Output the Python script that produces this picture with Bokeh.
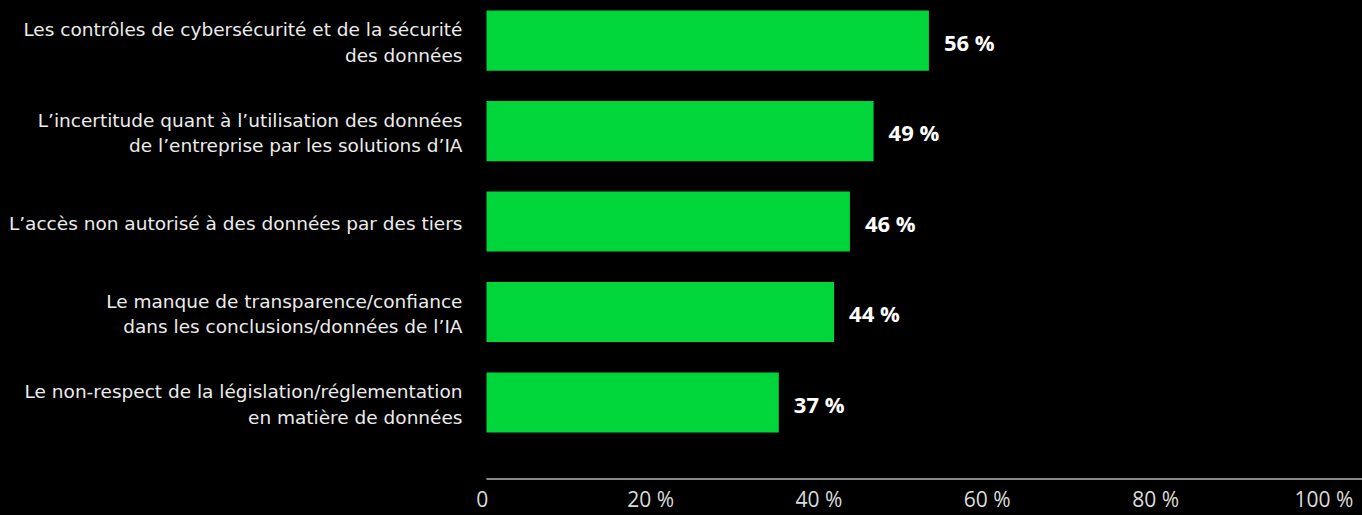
from bokeh.plotting import figure
from bokeh.models import Range1d, LinearAxis, FixedTicker, ColumnDataSource, InlineStyleSheet
from bokeh.core.properties import value
from bokeh.embed import file_html
from bokeh.resources import INLINE

# ---- data ----
categories = [
    "Les contrôles de cybersécurité et de la sécurité\ndes données",
    "L’incertitude quant à l’utilisation des données\nde l’entreprise par les solutions d’IA",
    "L’accès non autorisé à des données par des tiers",
    "Le manque de transparence/confiance\ndans les conclusions/données de l’IA",
    "Le non-respect de la législation/réglementation\nen matière de données",
]
values = [56, 49, 46, 44, 37]
value_labels = ["56 %", "49 %", "46 %", "44 %", "37 %"]
tick_values = [0, 20, 40, 60, 80, 100]
tick_labels = ["0", "20 %", "40 %", "60 %", "80 %", "100 %"]

# ---- layout constants ----
W, H = 1362, 515
FRAME_BOTTOM = 479          # pixel row of the axis line
ROW0, PITCH = 40.0, 90.3    # first bar centre and row pitch (px)
BASE_X, PX_PER_UNIT = 486.0, 7.9
TICK0, TICK_PX = 481.8, 8.416

rows = list(range(len(values)))
src = ColumnDataSource(dict(y=rows, v=values, cat=categories, vl=value_labels))

x_range = Range1d(-BASE_X / PX_PER_UNIT, (W - BASE_X) / PX_PER_UNIT)
y_range = Range1d((FRAME_BOTTOM - ROW0) / PITCH, -ROW0 / PITCH)

p = figure(width=W, height=H, x_range=x_range, y_range=y_range,
           output_backend="svg", toolbar_location=None,
           x_axis_location=None, y_axis_location=None,
           min_border=0, background_fill_color="black",
           border_fill_color="black", outline_line_color=None)
p.stylesheets = [InlineStyleSheet(css=":host { background-color: #000000; }")]
p.grid.visible = False

p.extra_x_ranges = {"ticks": Range1d(-TICK0 / TICK_PX, (W - TICK0) / TICK_PX)}
ax = LinearAxis(x_range_name="ticks", ticker=FixedTicker(ticks=tick_values),
                major_label_overrides={t: l for t, l in zip(tick_values, tick_labels)},
                axis_line_color=None, major_tick_line_color=None, minor_tick_line_color=None,
                major_tick_out=0, major_tick_in=0, major_label_standoff=4,
                major_label_text_font="Open Sans", major_label_text_font_size="21px",
                major_label_text_color="#dcdcdc")
p.add_layout(ax, "below")

p.hbar(y="y", left=0, right="v", height=60 / PITCH, source=src,
       fill_color="#00D639", line_color=None)

# baseline (axis line) from the bar origin to the right edge
base_y = (FRAME_BOTTOM - 1.5 - ROW0) / PITCH
p.segment(x0=[0], x1=[x_range.end], y0=[base_y], y1=[base_y],
          line_color="#8a8a8a", line_width=2)

p.text(x=0, y="y", text="cat", source=src, x_offset=-24, y_offset=2,
       text_align="right", text_baseline="middle", text_color="#ececec",
       text_font=value("DejaVu Sans"), text_font_size="18.5px", text_line_height=1.2)

p.text(x="v", y="y", text="vl", source=src, x_offset=15, y_offset=1,
       text_align="left", text_baseline="middle", text_color="#ffffff",
       text_font=value("Open Sans"), text_font_style="bold", text_font_size="22px")

html = file_html(p, INLINE)
html = html.replace("<body>", '<body style="margin:0;background:#000000">', 1)
open("out.html", "w").write(html)
